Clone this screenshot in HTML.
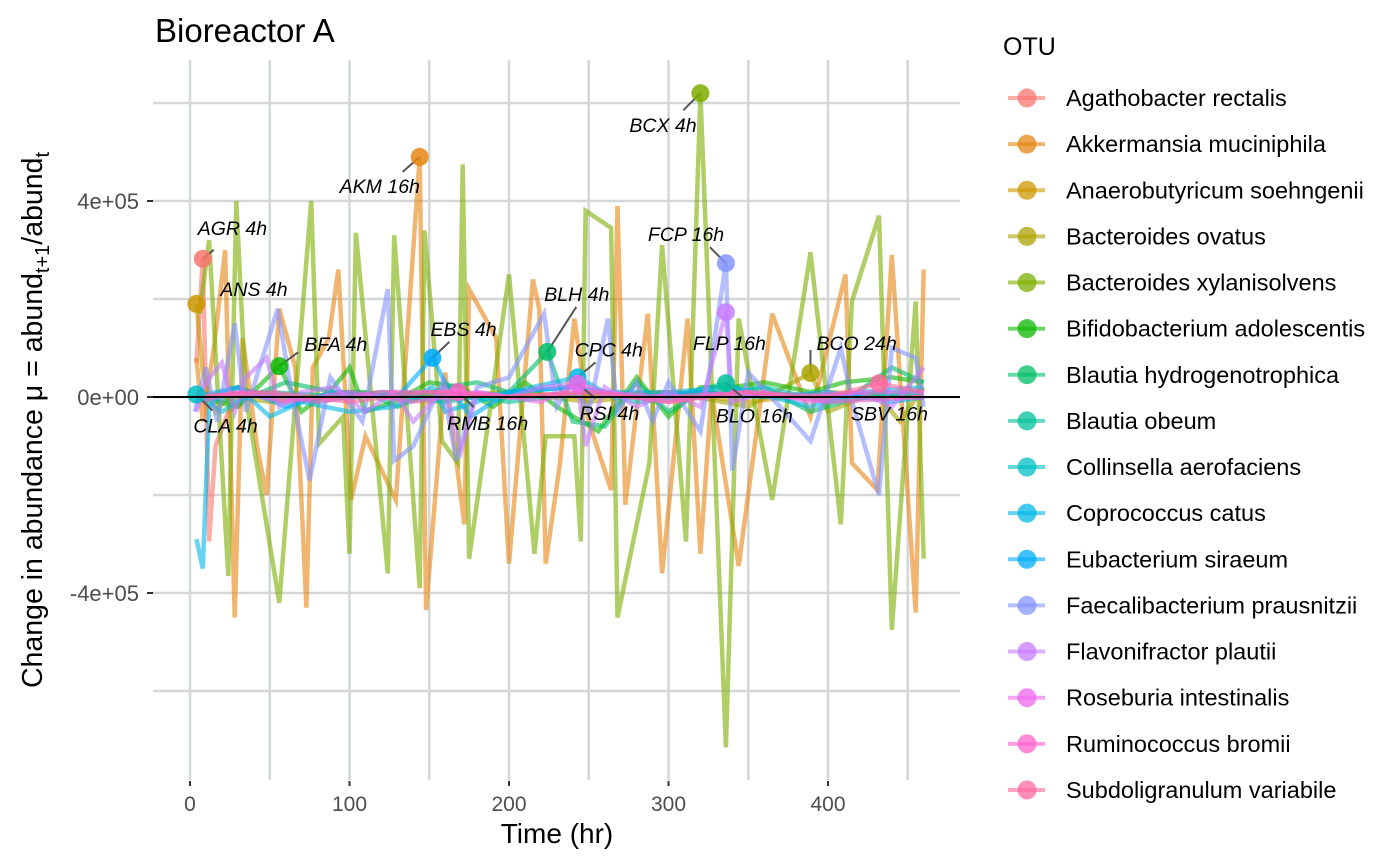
<!DOCTYPE html>
<html><head><meta charset="utf-8"><style>
body{margin:0;background:#fff;}
svg{display:block;font-family:"Liberation Sans",Arial,sans-serif;}
</style></head><body>
<svg id="chart" width="1400" height="866" xmlns="http://www.w3.org/2000/svg">
<text x="155" y="42" font-size="33" fill="#000">Bioreactor A</text>
<g id="grid"></g>
<g id="lines"></g>
<g id="pts"></g>
<g id="axes"></g>
<g id="legend"></g>
<text x="557" y="843" font-size="28" text-anchor="middle">Time (hr)</text>
<text transform="translate(42,420) rotate(-90)" font-size="28.5" text-anchor="middle">Change in abundance  μ = abund<tspan font-size="20" dy="7">t+1</tspan><tspan dy="-7">/abund</tspan><tspan font-size="20" dy="7">t</tspan></text>
</svg>
<script>
const seriesNames=["Agathobacter rectalis","Akkermansia muciniphila","Anaerobutyricum soehngenii","Bacteroides ovatus","Bacteroides xylanisolvens","Bifidobacterium adolescentis","Blautia hydrogenotrophica","Blautia obeum","Collinsella aerofaciens","Coprococcus catus","Eubacterium siraeum","Faecalibacterium prausnitzii","Flavonifractor plautii","Roseburia intestinalis","Ruminococcus bromii","Subdoligranulum variabile"];
const seriesColors=["#F8766D","#E68613","#CD9600","#ABA300","#7CAE00","#0CB702","#00BE67","#00C19A","#00BFC4","#00B8E7","#00A9FF","#8494FF","#C77CFF","#ED68ED","#FF61CC","#FF68A1"];
const xTicks=[0,100,200,300,400];
const yTicks=[-400000,0,400000];
const yTickLabels=["-4e+05","0e+00","4e+05"];
const tAgr=[4,8,12,16,24,40,80,120,200,300,400,460];
const vAgr=[0.7,2.82,-2.95,-1.0,-0.3,0.1,0,0.1,0,0.1,0,0];
const tAkm=[4,8,15,22,28,33,42,48,56,66,73,77,87,93,101,110,129,144,148,160,172,175,192,200,215,219,223,232,241,250,264,268,273,287,296,312,320,327,344,365,389,411,415,431,440,455,460];
const vAkm=[0.8,-0.5,1.0,3.0,-4.5,1.2,-1.0,-2.0,1.8,0.6,-4.3,0.6,1.2,2.6,-2.1,-0.8,-2.1,4.9,-4.35,0.5,-2.6,2.2,1.2,-3.4,2.4,1.8,-3.4,-1.35,1.6,-0.5,-1.9,3.9,-2.2,1.7,-3.6,1.6,-3.2,0.1,-3.45,1.7,-0.4,2.5,-1.35,-1.9,2.9,-4.4,2.6];
const tAns=[4,8,16,30,60,100,150,200,250,300,350,400,460];
const vAns=[1.9,0.5,-0.3,0.2,-0.1,0.1,-0.1,0.1,0,0.1,-0.1,0.1,0];
const tBco=[4,50,100,150,200,250,300,350,389,400,430,445,460];
const vBco=[0.1,-0.1,0.1,0,0.1,-0.1,0.1,-0.2,0.49,-0.3,0.1,-0.5,0.2];
const tBcx=[6,12,24,29,35,56,76,81,96,100,104,124,128,144,147,158,168,171,175,200,216,223,241,245,248,264,268,288,296,311,320,336,344,365,389,408,415,432,440,455,460];
const vBcx=[1.7,3.2,-3.65,4.0,0,-4.2,4.0,-0.95,-0.4,-3.2,3.35,-3.6,3.3,-3.9,3.4,-0.9,-1.35,4.75,-3.3,2.5,-3.2,-0.8,-0.8,-2.95,3.8,3.45,-4.5,-1.35,3.1,-2.95,6.2,-7.15,1.6,-2.1,2.95,-2.6,1.95,3.7,-4.75,1.95,-3.3];
const tBfa=[4,30,56,70,90,100,110,128,150,170,190,210,230,256,280,300,320,340,360,389,410,440,460];
const vBfa=[0,-0.2,0.63,-0.3,0.2,0.6,-0.3,-0.1,0.3,0.2,-0.2,0.3,-0.2,-0.7,0.4,-0.4,0.2,0.2,0.3,0.1,0.3,0.4,0.3];
const tBlh=[4,30,60,90,110,130,160,180,200,224,240,260,280,300,320,340,360,389,410,440,460];
const vBlh=[0,-0.1,0.3,0.1,0.1,-0.2,0.2,0.3,0.1,0.92,-0.5,-0.6,0.3,-0.3,0.1,0.1,0.2,-0.3,-0.1,0.6,0.3];
const tBlo=[4,50,100,150,200,250,300,336,350,400,460];
const vBlo=[0,0.1,0,0.1,-0.1,0.1,0,0.28,0.1,0,0.1];
const tCla=[4,20,40,80,120,160,200,240,280,320,360,400,460];
const vCla=[0.05,-0.3,0.1,-0.1,0.1,-0.1,0.1,0.2,-0.1,0,0.2,-0.1,0.1];
const tCpc=[4,8,12,20,30,50,70,100,128,152,160,200,243,260,300,340,389,420,460];
const vCpc=[-2.9,-3.5,-0.2,0.1,0.2,-0.4,-0.1,-0.3,-0.2,0.2,-0.3,0.1,0.4,0.1,0.1,0.2,-0.2,0.1,0.2];
const tEbs=[4,30,60,90,130,152,160,176,200,240,280,320,360,400,440,460];
const vEbs=[0,0.2,-0.2,0.1,0,0.8,0.3,-0.4,0.1,0.2,0,0.1,0,0.1,-0.1,0];
const tFcp=[3,10,17,28,35,55,63,75,88,108,124,128,140,158,167,180,200,222,230,240,250,262,268,280,290,300,320,336,340,350,370,389,408,416,432,440,455,460];
const vFcp=[-0.3,0.6,-0.5,1.5,-0.3,1.8,0.2,-1.7,0.4,-0.5,2.2,-1.3,-1.0,0.3,-1.3,0.2,0.4,1.7,-0.2,0.3,-0.3,1.6,-0.3,0.3,-0.5,0.3,-0.7,2.73,-1.5,0.5,-0.2,-0.9,1.0,-0.2,-2.0,1.0,0.8,-0.2];
const tFlp=[4,10,20,28,35,48,56,70,90,110,128,140,160,170,180,200,220,243,248,260,280,300,320,336,340,360,389,420,440,460];
const vFlp=[-0.3,0.3,0.7,-0.3,0.4,0.8,-0.2,0.1,0.2,-0.3,0.1,-0.5,0.2,-1.1,0.1,0,0.2,0.27,-1.0,0.2,-0.2,0.1,-0.2,1.73,-0.1,0.1,-0.1,0.1,-0.2,0.6];
const tRsi=[4,30,60,100,140,180,220,243,260,300,340,380,420,460];
const vRsi=[-0.1,0.1,-0.1,0.1,-0.1,0.1,-0.1,0.27,0.1,-0.1,0.1,0,0.1,0.1];
const tRmb=[4,40,80,120,168,200,250,300,350,400,460];
const vRmb=[0,0.1,-0.1,0.1,0.1,0,0.1,0,0.1,-0.1,0];
const tSbv=[4,50,100,150,200,250,300,350,400,432,460];
const vSbv=[0,0.1,-0.1,0.1,0,0.1,-0.1,0.1,0,0.28,0.1];
const seriesTimes=[tAgr,tAkm,tAns,tBco,tBcx,tBfa,tBlh,tBlo,tCla,tCpc,tEbs,tFcp,tFlp,tRsi,tRmb,tSbv];
const seriesValues=[vAgr,vAkm,vAns,vBco,vBcx,vBfa,vBlh,vBlo,vCla,vCpc,vEbs,vFcp,vFlp,vRsi,vRmb,vSbv];
const valueScale=100000;
const hlSeries=[0,2,5,8,1,10,14,11,9,13,4,11,12,7,3,15];
const hlTimes=[8,4,56,4,144,152,168,224,243,243,320,336,336,336,389,432];
const hlValues=[2.82,1.9,0.63,0.05,4.9,0.8,0.1,0.92,0.4,0.27,6.2,2.73,1.73,0.28,0.49,0.28];
const hlLabels=["AGR 4h","ANS 4h","BFA 4h","CLA 4h","AKM 16h","EBS 4h","RMB 16h","BLH 4h","CPC 4h","RSI 4h","BCX 4h","FCP 16h","FLP 16h","BLO 16h","BCO 24h","SBV 16h"];
const hlSeriesColor=[0,2,5,8,1,10,14,6,9,13,4,11,12,7,3,15];
const lblOff=[[-5,-31],[24,-15],[25,-22],[-3,31],[-80,29],[-2,-29],[-11,31],[-3,-58],[-3,-28],[2,29],[-71,32],[-78,-29],[-33,31],[-10,32],[6,-30],[-28,30]];
const segEnd=[[11,-9],null,[19,-14],[16,16],[-17,15],[17,-16],[16,15],[29,-45],[18,-15],[18,15],[-17,17],[-16,-16],null,[18,15],[0,-23],null];

const NS="http://www.w3.org/2000/svg";
const X0=153,X1=960,Y0=60,Y1=780;
const xS=t=>190+t*1.595;
const yS=v=>397-v/400000*196;
function mk(tag,attrs,parent){const e=document.createElementNS(NS,tag);for(const k in attrs)e.setAttribute(k,attrs[k]);parent.appendChild(e);return e;}
const grid=document.getElementById('grid');
for(let t=0;t<=450;t+=50){
  const g=mk('line',{x1:xS(t),x2:xS(t),y1:Y0,y2:Y1,stroke:'#d3d7d7','stroke-width':2.5},grid);
  
  
}
for(let v=-600000;v<=600000;v+=200000){
  const g=mk('line',{x1:X0,x2:X1,y1:yS(v),y2:yS(v),stroke:'#d3d7d7','stroke-width':2.5},grid);
  
  
}
const lines=document.getElementById('lines');
seriesNames.forEach((n,i)=>{
  const pts=seriesTimes[i].map((t,j)=>xS(t).toFixed(1)+','+yS(seriesValues[i][j]*valueScale).toFixed(1)).join(' ');
  const p=mk('polyline',{points:pts,fill:'none',stroke:seriesColors[i],'stroke-opacity':0.6,'stroke-width':4.5,'stroke-linejoin':'miter'},lines);
  
  
});
const axes=document.getElementById('axes');
const zl=mk('line',{x1:X0,x2:X1,y1:yS(0),y2:yS(0),stroke:'#000','stroke-width':2},axes);


const ptsG=document.getElementById('pts');
hlLabels.forEach((lab,k)=>{
  const px=xS(hlTimes[k]),py=yS(hlValues[k]*valueScale);
  if(segEnd[k]){
    const s=mk('line',{x1:px,y1:py,x2:px+segEnd[k][0],y2:py+segEnd[k][1],stroke:'#555','stroke-width':2},ptsG);
    
    
  }
  const c=mk('circle',{cx:px,cy:py,r:9,fill:seriesColors[hlSeriesColor[k]],'fill-opacity':0.85},ptsG);
  
  
  const t=mk('text',{x:px+lblOff[k][0],y:py+lblOff[k][1]+7,'font-size':19.5,'font-style':'italic',fill:'#000'},ptsG);
  t.textContent=lab;
  
  
});
xTicks.forEach(t=>{
  const tk=mk('line',{x1:xS(t),x2:xS(t),y1:781,y2:786,stroke:'#333','stroke-width':2},axes);
  
  
  const e=mk('text',{x:xS(t),y:811,'font-size':21,'text-anchor':'middle',fill:'#4d4d4d'},axes);
  e.textContent=t;
  
  
});
yTicks.forEach((v,i)=>{
  const tk=mk('line',{x1:147,x2:153,y1:yS(v),y2:yS(v),stroke:'#333','stroke-width':2},axes);
  
  
  const e=mk('text',{x:139,y:yS(v)+8,'font-size':22,'text-anchor':'end',fill:'#4d4d4d'},axes);
  e.textContent=yTickLabels[i];
  
  
});
const leg=document.getElementById('legend');
const lt=mk('text',{x:1003,y:55,'font-size':25},leg);
lt.textContent='OTU';


seriesNames.forEach((n,i)=>{
  const y=98+i*46.13;
  const g=mk('g',{},leg);
  
  
  mk('line',{x1:1008,x2:1045,y1:y,y2:y,stroke:seriesColors[i],'stroke-opacity':0.6,'stroke-width':4},g);
  mk('circle',{cx:1027,cy:y,r:9.5,fill:seriesColors[i],'fill-opacity':0.75},g);
  const t=mk('text',{x:1066,y:y+8,'font-size':23.5},g);
  t.textContent=n;
});
</script>
</body></html>
